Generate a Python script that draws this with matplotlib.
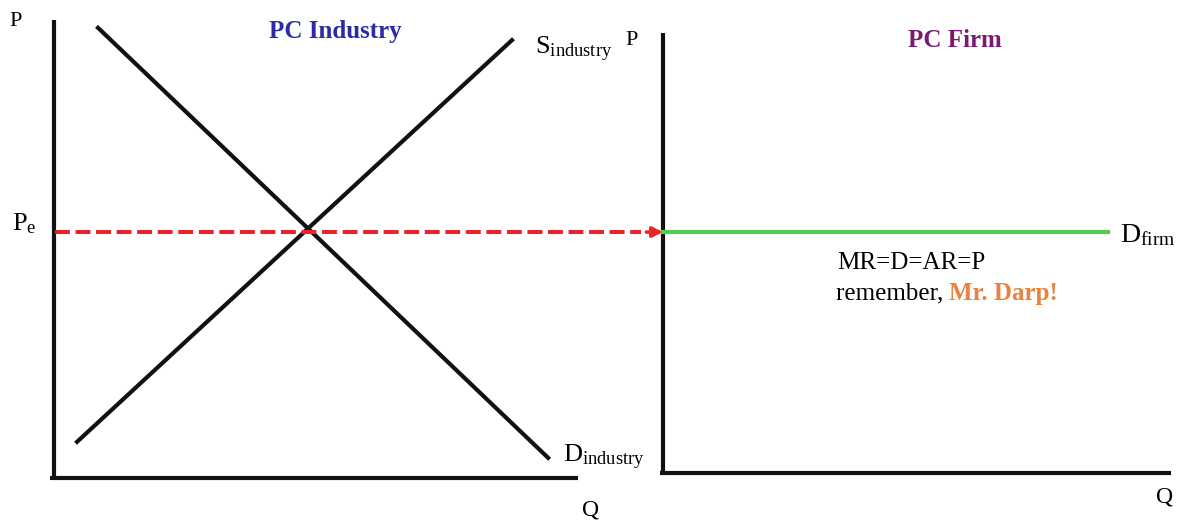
import matplotlib
matplotlib.use("Agg")
import matplotlib.pyplot as plt

# ---- data (economic units: quantity Q, price P) ----
supply_q = [0.44, 8.74]
supply_p = [0.79, 9.56]
demand_q = [0.84, 9.43]
demand_p = [9.83, 0.44]
price_eq = 5.37
firm_demand_q = [0.0, 8.76]
firm_axis_p = 0.11   # firm panel Q-axis sits slightly higher

W, H = 1182, 522
plt.rcParams['mathtext.fontset'] = 'custom'
plt.rcParams['mathtext.rm'] = 'Liberation Serif'
plt.rcParams['mathtext.it'] = 'Liberation Serif:italic'
plt.rcParams['mathtext.bf'] = 'Liberation Serif:bold'
SERIF = 'Liberation Serif'

fig = plt.figure(figsize=(W / 100, H / 100), dpi=100)
fig.patch.set_facecolor('white')

ax1 = fig.add_axes([54 / W, 44 / H, 524 / W, 458 / H])
ax2 = fig.add_axes([663 / W, 44 / H, 508 / W, 458 / H])
for ax in (ax1, ax2):
    ax.set_xlim(0, 10)
    ax.set_ylim(0, 10)
    ax.axis('off')

LW = 3.0
BLACK = '#111111'
RED = '#e8242a'
GREEN = '#52cc52'

# ---- industry panel ----
ax1.plot([0, 0], [0, 10], color=BLACK, lw=LW, solid_capstyle='butt', clip_on=False)
ax1.plot([-0.08, 10.0], [0, 0], color=BLACK, lw=LW, solid_capstyle='butt', clip_on=False)
ax1.plot(supply_q, supply_p, color=BLACK, lw=LW, clip_on=False)
ax1.plot(demand_q, demand_p, color=BLACK, lw=LW, clip_on=False)

# dashed equilibrium price line into firm panel
ax1.plot([0.02, 11.2], [price_eq, price_eq], color=RED, lw=2.9,
         dashes=(3.7, 1.4), clip_on=False)
ax2.annotate('', xy=(0, price_eq), xytext=(-0.33, price_eq),
             xycoords='data', textcoords='data',
             arrowprops=dict(arrowstyle='-|>,head_length=0.6,head_width=0.3',
                             color=RED, lw=2.5, shrinkA=0, shrinkB=0),
             annotation_clip=False)

ax1.text(-0.74, 9.96, 'P', fontsize=16, family=SERIF, ha='center', va='center')
ax1.text(-0.80, 5.41, r'$\mathrm{P}_{\mathrm{e}}$', fontsize=19, ha='left', va='baseline')
ax1.text(9.18, 9.24, r'$\mathrm{S}_{\mathrm{industry}}$', fontsize=19, ha='left', va='baseline')
ax1.text(11.03, 9.56, 'P', fontsize=16, family=SERIF, ha='center', va='center')
ax1.text(5.36, 9.74, 'PC Industry', fontsize=18, family=SERIF, fontweight='bold',
         color='#2b2ba6', ha='center', va='center')
ax1.text(9.71, 0.35, r'$\mathrm{D}_{\mathrm{industry}}$', fontsize=19, ha='left', va='baseline')
ax1.text(10.24, -0.70, 'Q', fontsize=17, family=SERIF, ha='center', va='center')

# ---- firm panel ----
ax2.plot([0, 0], [firm_axis_p, 9.72], color=BLACK, lw=LW, solid_capstyle='butt', clip_on=False)
ax2.plot([-0.06, 10.0], [firm_axis_p, firm_axis_p], color=BLACK, lw=LW,
         solid_capstyle='butt', clip_on=False)
ax2.plot(firm_demand_q, [price_eq, price_eq], color=GREEN, lw=LW, clip_on=False)

ax2.text(5.75, 9.56, 'PC Firm', fontsize=18, family=SERIF, fontweight='bold',
         color='#7b1a72', ha='center', va='center')
ax2.text(9.0, 5.15, r'$\mathrm{D}_{\mathrm{firm}}$', fontsize=20, ha='left', va='baseline')
ax2.text(3.43, 4.69, 'MR=D=AR=P', fontsize=18, family=SERIF, ha='left', va='center')
t = ax2.text(3.40, 4.02, 'remember, ', fontsize=18, family=SERIF, ha='left', va='center')
ax2.annotate('Mr. Darp!', xycoords=t, xy=(1, 0.5), va='center', ha='left',
             fontsize=18, family=SERIF, fontweight='bold', color='#e8823e')
ax2.text(9.88, -0.41, 'Q', fontsize=17, family=SERIF, ha='center', va='center')

fig.savefig('out.png', dpi=100, facecolor='white')
